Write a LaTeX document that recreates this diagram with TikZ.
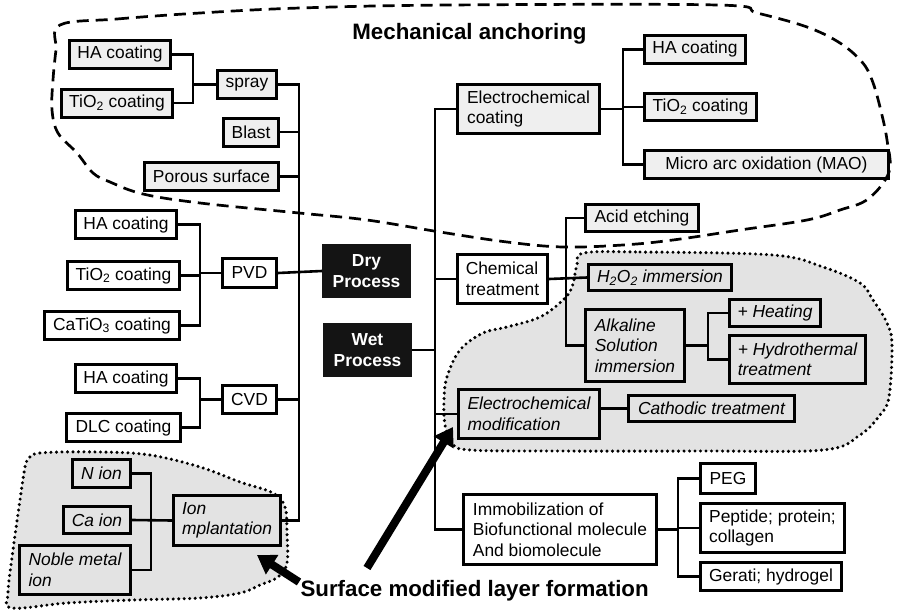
\documentclass[tikz,border=0pt]{standalone}
\usepackage{fontspec}
\setmainfont{Liberation Sans}
\usetikzlibrary{arrows.meta}
\definecolor{boxlight}{HTML}{EFEFEF}
\definecolor{regiongray}{HTML}{E3E3E3}
\definecolor{darkbox}{HTML}{141414}
\tikzset{
  every node/.style={font=\fontsize{17.4}{20.5}\selectfont},
  box/.style={draw, line width=3pt, inner sep=0pt, align=center},
  lbox/.style={box, fill=boxlight},
  wbox/.style={box, fill=white},
  rbox/.style={box, fill=regiongray, font=\fontsize{17.4}{20.5}\selectfont\itshape},
  dbox/.style={box, draw=darkbox, fill=darkbox, text=white, font=\fontsize{17.4}{20.5}\selectfont\bfseries},
  sz/.style 2 args={minimum width=#1pt, minimum height=#2pt},
  link/.style={line width=2.6pt},
  anchoring/.style={line width=2.7pt, dash pattern=on 12pt off 7pt},
  layer/.style={fill=regiongray, line width=3.4pt, dash pattern=on 0pt off 5.5pt, line cap=round},
  heading/.style={font=\fontsize{22.3}{26}\selectfont\bfseries},
  bigarrow/.style={line width=8pt, -{Triangle[length=18pt,width=22pt]}}
}
\begin{document}
\begin{tikzpicture}[x=1pt,y=-1pt]
\useasboundingbox (0,0) rectangle (898,613);

% surface modified layer regions
\draw[layer] plot[smooth cycle, tension=0.6] coordinates {
  (28,460) (40,453) (100,452) (150,455) (200,467) (240,482) (273,493)
  (285,507) (287,533) (287,563) (278,577) (260,585) (240,593) (200,598)
  (133,600) (67,603) (12,608) (8,593) (13,550) (20,500) (25,467)};
\draw[layer] plot[smooth cycle, tension=0.6] coordinates {
  (584,253) (640,252) (773,255) (823,267) (860,283) (873,300) (887,323)
  (892,345) (889,397) (880,415) (860,435) (823,450) (700,451) (560,451)
  (470,450) (452,443) (445,425) (444,400) (447,377) (460,350) (483,333)
  (507,327) (540,317) (563,300) (572,287) (577,265)};

% junction columns
\coordinate (dryx) at (299,0);
\coordinate (wetx) at (435,0);
\coordinate (jspray) at (193,0);
\coordinate (jpvd) at (200,0);
\coordinate (jion) at (151,0);
\coordinate (jec) at (623,0);
\coordinate (jchem) at (566,0);
\coordinate (jalk) at (708,0);
\coordinate (jimm) at (678,0);

% dry process branch
\node[lbox, sz={101}{28}] (ha1) at (120,54.5) {HA coating};
\node[lbox, sz={111}{28}] (tio1) at (117,103) {TiO\textsubscript{2} coating};
\node[lbox, sz={59}{28}] (spray) at (247,84.5) {spray};
\node[lbox, sz={55}{28}] (blast) at (251,132) {Blast};
\node[lbox, sz={134}{28}] (porous) at (211.5,176.5) {Porous surface};
\node[wbox, sz={101}{28}] (ha3) at (126,224.5) {HA coating};
\node[wbox, sz={112}{28}] (tio3) at (123.5,275.5) {TiO\textsubscript{2} coating};
\node[wbox, sz={135}{28}] (catio) at (112,325.5) {CaTiO\textsubscript{3} coating};
\node[wbox, sz={54}{29}] (pvd) at (249.5,273) {PVD};
\node[wbox, sz={101}{28}] (ha4) at (126,378.5) {HA coating};
\node[wbox, sz={114}{28}] (dlc) at (123.5,427.5) {DLC coating};
\node[wbox, sz={54}{28}] (cvd) at (249.5,399.5) {CVD};
\node[rbox, sz={58}{28}] (nion) at (101.5,473.5) {N ion};
\node[rbox, sz={67}{27}] (caion) at (97,520) {Ca ion};
\node[rbox, sz={111}{49}, align=left] (noble) at (75,570) {Noble metal\\ion};
\node[rbox, sz={107}{50}, align=left] (ionimp) at (227,520.5) {Ion\\mplantation};
\node[dbox, sz={86}{51}] (dry) at (366.5,271) {Dry\\Process};
\node[dbox, sz={86}{51}] (wet) at (367.5,350) {Wet\\Process};

% wet process branch
\node[lbox, sz={142}{49}, align=left] (ecoat) at (528.5,109) {Electrochemical\\coating};
\node[lbox, sz={101}{28}] (ha2) at (695,49.5) {HA coating};
\node[lbox, sz={112}{27}] (tio2) at (700.5,107) {TiO\textsubscript{2} coating};
\node[lbox, sz={244}{28}] (mao) at (766.5,164.5) {Micro arc oxidation (MAO)};
\node[wbox, sz={90}{49}, align=left] (chem) at (502.5,279) {Chemical\\treatment};
\node[lbox, sz={113}{27}] (acid) at (642,218) {Acid etching};
\node[rbox, sz={143}{26}] (h2o2) at (660,277.5) {H\textsubscript{2}O\textsubscript{2} immersion};
\node[rbox, sz={99}{72}, align=left] (alk) at (635,345.5) {Alkaline\\Solution\\immersion};
\node[rbox, sz={91}{27}] (heat) at (775,313) {+ Heating};
\node[rbox, sz={136}{48}, align=left] (hydro) at (797.5,359.5) {+ Hydrothermal\\treatment};
\node[rbox, sz={141}{49}, align=left] (emod) at (529,414) {Electrochemical\\modification};
\node[rbox, sz={166}{26}] (cath) at (711.5,408.5) {Cathodic treatment};
\node[wbox, sz={193}{70}, align=left] (immob) at (560,529.5) {Immobilization of\\Biofunctional molecule\\And biomolecule};
\node[wbox, sz={55}{30}] (peg) at (728,478.5) {PEG};
\node[wbox, sz={144}{49}, align=left] (pept) at (772.5,528) {Peptide; protein;\\collagen};
\node[wbox, sz={141}{28}] (gel) at (771,576.5) {Gerati; hydrogel};

% connectors of the dry process tree
\draw[link] (ha1.east) -- (ha1.east -| jspray) -- (tio1.east -| jspray) -- (tio1.east);
\draw[link] (jspray |- spray.west) -- (spray.west);
\draw[link] (spray.east) -- (spray.east -| dryx) -- (ionimp.east -| dryx) -- (ionimp.east);
\draw[link] (blast.east) -- (blast.east -| dryx);
\draw[link] (porous.east) -- (porous.east -| dryx);
\draw[link] (ha3.east) -- (ha3.east -| jpvd) -- (catio.east -| jpvd) -- (catio.east);
\draw[link] (tio3.east) -- (tio3.east -| jpvd);
\draw[link] (jpvd |- pvd.west) -- (pvd.west);
\draw[link] (pvd.east) -- (dry.west);
\draw[link] (ha4.east) -- (ha4.east -| jpvd) -- (dlc.east -| jpvd) -- (dlc.east);
\draw[link] (jpvd |- cvd.west) -- (cvd.west);
\draw[link] (cvd.east) -- (cvd.east -| dryx);
\draw[link] (nion.east) -- (nion.east -| jion) -- (noble.east -| jion) -- (noble.east);
\draw[link] (caion.east) -- (ionimp.west);

% connectors of the wet process tree
\draw[link] (ecoat.west) -- (ecoat.west -| wetx) -- (immob.west -| wetx) -- (immob.west);
\draw[link] (wet.east) -- (wet.east -| wetx);
\draw[link] (chem.west -| wetx) -- (chem.west);
\draw[link] (emod.west -| wetx) -- (emod.west);
\draw[link] (ecoat.east) -- (ecoat.east -| jec);
\draw[link] (ha2.west) -- (ha2.west -| jec) -- (mao.west -| jec) -- (mao.west);
\draw[link] (tio2.west) -- (tio2.west -| jec);
\draw[link] (chem.east) -- (h2o2.west);
\draw[link] (acid.west) -- (acid.west -| jchem) -- (alk.west -| jchem) -- (alk.west);
\draw[link] (alk.east) -- (alk.east -| jalk);
\draw[link] (heat.west) -- (heat.west -| jalk) -- (hydro.west -| jalk) -- (hydro.west);
\draw[link] (cath.west -| emod.east) -- (cath.west);
\draw[link] (immob.east) -- (immob.east -| jimm);
\draw[link] (peg.west) -- (peg.west -| jimm) -- (gel.west -| jimm) -- (gel.west);
\draw[link] (pept.west) -- (pept.west -| jimm);

% mechanical anchoring region
\draw[anchoring] plot[smooth cycle, tension=0.6] coordinates {
  (60,25) (117,19) (200,13) (300,8) (450,5) (717,5) (757,13) (807,27)
  (840,43) (862,62) (872,80) (880,107) (887,140) (889,172) (868,199)
  (840,210) (807,220) (740,230) (673,240) (623,245) (563,247) (507,242)
  (440,232) (367,220) (299,213) (200,203) (143,194) (110,182) (93,173)
  (77,153) (58,133) (52,110) (53,80) (56,50)};

% headings and pointers
\node[heading, anchor=base] (mech) at (469.5,39) {Mechanical anchoring};
\node[heading, anchor=base west] (surf) at (297,596) {Surface modified layer formation};
\coordinate (tail1) at (299,582);
\coordinate (tip1) at (257,555);
\coordinate (tail2) at (367,568);
\coordinate (tip2) at (453,427);
\draw[bigarrow] (tail1) -- (tip1);
\draw[bigarrow] (tail2) -- (tip2);
\end{tikzpicture}
\end{document}
